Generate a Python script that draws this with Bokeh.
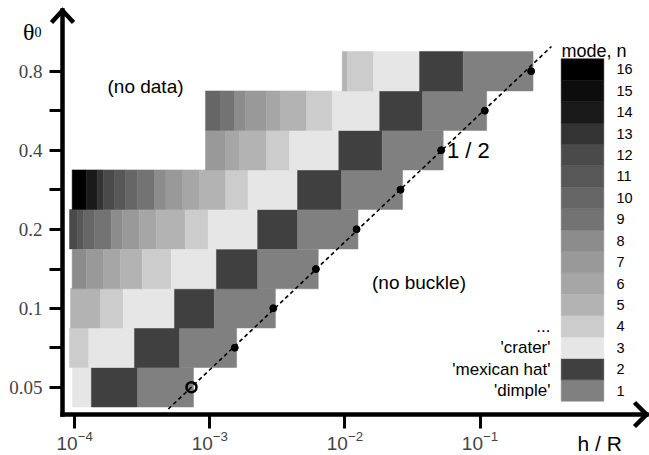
from bokeh.plotting import figure
from bokeh.models import (ColumnDataSource, FixedTicker, LogTickFormatter, CustomJSTickFormatter,
                          Range1d, LinearScale, Label, PolyAnnotation)
from bokeh.core.properties import value
from bokeh.embed import file_html
from bokeh.resources import INLINE

# ---------------------------------------------------------------- data
# buckling mode n found for each (h/R, theta0) cell; one row per opening angle theta0
theta_rows = [0.05, 0.0707, 0.1, 0.141, 0.2, 0.283, 0.4, 0.566, 0.8]

row_050_edges = [9.63e-5, 1.33e-4, 2.92e-4, 7.57e-4]
row_050_modes = [3, 2, 1]
row_071_edges = [9.15e-5, 1.27e-4, 2.77e-4, 5.97e-4, 1.58e-3]
row_071_modes = [4, 3, 2, 1]
row_100_edges = [9.31e-5, 1.55e-4, 2.29e-4, 5.48e-4, 1.08e-3, 3.06e-3]
row_100_modes = [5, 4, 3, 2, 1]
row_141_edges = [9.58e-5, 1.22e-4, 1.63e-4, 2.17e-4, 3.16e-4, 5.18e-4, 1.12e-3, 2.26e-3, 6.35e-3]
row_141_modes = [8, 7, 6, 5, 4, 3, 2, 1]
row_200_edges = [9.15e-5, 1.05e-4, 1.16e-4, 1.40e-4, 1.86e-4, 2.25e-4, 3.00e-4, 4.01e-4,
                 6.58e-4, 9.73e-4, 2.26e-3, 4.46e-3, 1.25e-2]
row_200_modes = [12, 11, 10, 9, 8, 7, 6, 5, 4, 3, 2, 1]
row_283_edges = [9.58e-5, 1.22e-4, 1.47e-4, 1.63e-4, 1.97e-4, 2.38e-4, 2.90e-4, 3.90e-4,
                 4.73e-4, 6.31e-4, 8.39e-4, 1.31e-3, 1.92e-3, 4.46e-3, 9.44e-3, 2.67e-2]
row_283_modes = [16, 14, 13, 12, 11, 10, 9, 8, 7, 6, 5, 4, 3, 2, 1]
row_400_edges = [9.30e-4, 1.31e-3, 1.66e-3, 2.63e-3, 3.89e-3, 9.01e-3, 1.89e-2, 5.34e-2]
row_400_modes = [7, 6, 5, 4, 3, 2, 1]
row_566_edges = [9.30e-4, 1.19e-3, 1.53e-3, 1.84e-3, 2.63e-3, 3.34e-3, 5.20e-3, 8.09e-3,
                 1.81e-2, 3.75e-2, 0.112]
row_566_modes = [10, 9, 8, 7, 6, 5, 4, 3, 2, 1]
row_800_edges = [9.55e-3, 1.04e-2, 1.63e-2, 3.57e-2, 7.51e-2, 0.247]
row_800_modes = [5, 4, 3, 2, 1]

# buckling threshold (h/R where buckling first appears) for each theta0 row
crit_hR = [7.32e-4, 1.53e-3, 2.95e-3, 6.10e-3, 1.22e-2, 2.58e-2, 5.16e-2, 0.1085, 0.239]

# guide line of slope 1/2
guide_hR = [4.93e-4, 0.338]
guide_theta = [0.0413, 0.994]

# grey level used for each mode n = 1 .. 16
modes = list(range(1, 17))
mode_gray = ["#808080", "#404040", "#e6e6e6", "#cccccc", "#b3b3b3", "#a6a6a6", "#999999",
             "#8c8c8c", "#737373", "#666666", "#575757", "#4a4a4a", "#333333", "#1a1a1a",
             "#0d0d0d", "#000000"]
mode_names = ["'dimple'", "'mexican hat'", "'crater'", "..."]

x_ticks = [1e-4, 1e-3, 1e-2, 1e-1]
y_ticks = [0.05, 0.1, 0.2, 0.4, 0.8]
y_minor = [0.0707, 0.141, 0.283, 0.566]

# ---------------------------------------------------------------- layout
W, H = 649, 455
X_RANGE = (2.824e-5, 1.797)      # h/R across the whole canvas width
Y_RANGE = (0.02747, 1.4877)      # theta0 across the whole canvas height
AXIS_PX, AXIS_PY = 62, 414       # where the two axes cross, in canvas pixels
END_PX, END_PY = 646, 10         # arrow tips
SANS = "Liberation Sans"
SERIF = "Liberation Serif"


def to_data(px, py):
    """Canvas pixel -> data coordinates (log axes)."""
    fx = px / W
    fy = (H - py) / H
    return (X_RANGE[0] * (X_RANGE[1] / X_RANGE[0]) ** fx,
            Y_RANGE[0] * (Y_RANGE[1] / Y_RANGE[0]) ** fy)


p = figure(width=W, height=H, x_axis_type="log", y_axis_type="log",
           x_range=Range1d(*X_RANGE), y_range=Range1d(*Y_RANGE),
           output_backend="svg", toolbar_location=None,
           min_border=0, min_border_left=0, min_border_right=0,
           min_border_top=0, min_border_bottom=0)
p.outline_line_color = None
p.grid.visible = False
p.background_fill_color = "white"
p.border_fill_color = "white"

# linear helper ranges for the mode key: x in canvas pixels, y in mode number
p.extra_x_ranges = {"key": Range1d(0, W)}
p.extra_x_scales = {"key": LinearScale()}
p.extra_y_ranges = {"key": Range1d(-2.037, 19.224)}
p.extra_y_scales = {"key": LinearScale()}

# ---------------------------------------------------------------- cells
rows = [
    (theta_rows[0], row_050_edges, row_050_modes),
    (theta_rows[1], row_071_edges, row_071_modes),
    (theta_rows[2], row_100_edges, row_100_modes),
    (theta_rows[3], row_141_edges, row_141_modes),
    (theta_rows[4], row_200_edges, row_200_modes),
    (theta_rows[5], row_283_edges, row_283_modes),
    (theta_rows[6], row_400_edges, row_400_modes),
    (theta_rows[7], row_566_edges, row_566_modes),
    (theta_rows[8], row_800_edges, row_800_modes),
]
cells = dict(left=[], right=[], bottom=[], top=[], color=[])
for theta, edges, ms in rows:
    for i, m in enumerate(ms):
        cells["left"].append(edges[i])
        cells["right"].append(edges[i + 1])
        cells["bottom"].append(theta / 2 ** 0.25)
        cells["top"].append(theta * 2 ** 0.25)
        cells["color"].append(mode_gray[m - 1])
p.quad(left="left", right="right", bottom="bottom", top="top", source=ColumnDataSource(cells),
       fill_color="color", line_color="color", line_width=0.5)

# ---------------------------------------------------------------- threshold line and points
p.line(guide_hR, guide_theta, line_color="black", line_width=1.6, line_dash="4 3")
p.scatter(crit_hR[1:], theta_rows[1:], size=7, fill_color="black", line_color="black")
p.scatter(crit_hR[:1], theta_rows[:1], size=10, fill_alpha=0, line_color="black", line_width=2.5)

# ---------------------------------------------------------------- mode key
p.quad(left=560.7, right=603.3, bottom=[m - 0.5 for m in modes], top=[m + 0.5 for m in modes],
       fill_color=mode_gray, line_color=mode_gray, line_width=0.5,
       x_range_name="key", y_range_name="key")
p.text(x=616, y=modes, text=[str(m) for m in modes], x_range_name="key", y_range_name="key",
       text_font=value(SANS), text_font_size="14.5px", text_baseline="middle",
       text_align="left", text_color="black")
p.text(x=[561], y=[16.86], text=["mode, n"], x_range_name="key", y_range_name="key",
       text_font=value(SANS), text_font_size="18px", text_baseline="alphabetic",
       text_align="left", text_color="black")
p.text(x=550, y=[1, 2, 3, 4], text=mode_names, x_range_name="key", y_range_name="key",
       text_font=value(SANS), text_font_size="17px", text_baseline="middle",
       text_align="right", text_color="black")

# ---------------------------------------------------------------- axes, pinned inside the canvas
x_lo, y_lo = to_data(AXIS_PX, AXIS_PY)
x_hi, y_hi = to_data(END_PX, END_PY)

xa = p.xaxis[0]
xa.fixed_location = y_lo
xa.bounds = (x_lo, x_hi)
xa.ticker = FixedTicker(ticks=x_ticks)
xa.formatter = LogTickFormatter()
xa.axis_line_width = 4.5
xa.axis_line_cap = "square"
xa.major_tick_line_width = 3
xa.major_tick_out = 14
xa.major_tick_in = 0
xa.minor_tick_line_color = None
xa.major_label_standoff = 2
xa.major_label_text_font = SANS
xa.major_label_text_font_size = "19px"

ya = p.yaxis[0]
ya.fixed_location = x_lo
ya.bounds = (y_lo, y_hi)
ya.ticker = FixedTicker(ticks=y_ticks, minor_ticks=y_minor)
ya.formatter = CustomJSTickFormatter(code="return String(tick)")
ya.axis_line_width = 4.5
ya.axis_line_cap = "square"
ya.major_tick_line_width = 3
ya.major_tick_out = 13
ya.major_tick_in = 0
ya.minor_tick_line_width = 3
ya.minor_tick_out = 13
ya.minor_tick_in = 0
ya.minor_tick_line_color = "black"
ya.major_label_standoff = 7
ya.major_label_text_font = SERIF
ya.major_label_text_font_size = "19px"

# arrow heads at the ends of both axes
for pts in ([(51, 22), (62, 10), (73, 22), (62, 10)],
            [(634, 402), (646, 414), (634, 426), (646, 414)]):
    xy = [to_data(*q) for q in pts]
    p.add_layout(PolyAnnotation(xs=[q[0] for q in xy], ys=[q[1] for q in xy],
                                fill_color=None, line_color="black", line_alpha=1.0,
                                line_width=4.5, line_join="miter"))

# ---------------------------------------------------------------- labels
def add_label(text, px, py, size, font=SANS, align="left", baseline="middle"):
    x, y = to_data(px, py)
    p.add_layout(Label(x=x, y=y, text=text, text_font=font, text_font_size=size,
                       text_align=align, text_baseline=baseline, text_color="black"))


add_label("θ", 22.5, 31.7, "24px", font=SERIF, baseline="alphabetic")
add_label("0", 34, 31.7, "14px", font=SERIF, baseline="alphabetic")
add_label("h / R", 577, 443, "21px", baseline="alphabetic")
add_label("(no data)", 107, 86, "19px")
add_label("(no buckle)", 371.5, 282.3, "19px")
add_label("1 / 2", 446.5, 149.7, "22px")

open("out.html", "w").write(file_html(p, INLINE))
